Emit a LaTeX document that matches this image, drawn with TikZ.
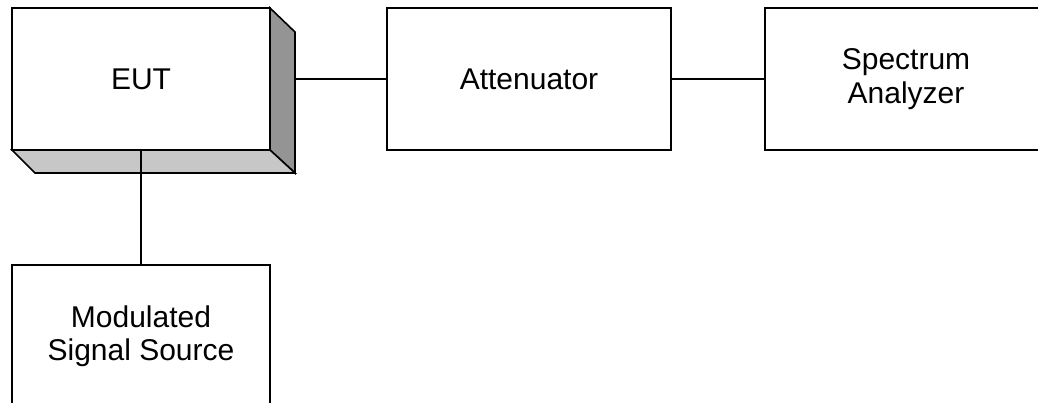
\documentclass[tikz,border=0pt]{standalone}
\usepackage{fontspec}
\setmainfont{Liberation Sans}
\begin{document}
\begin{tikzpicture}[x=1pt,y=-1pt,
  blockbox/.style={draw=black, line width=2pt, fill=white, rectangle, inner sep=0pt,
    minimum width=258pt, minimum height=142pt, align=center,
    font=\fontsize{30}{33.5}\selectfont},
  wire/.style={draw=black, line width=2pt},
  sideface/.style={draw=black, line width=1.6pt, line join=miter, fill=black!42},
  bottomface/.style={draw=black, line width=1.6pt, line join=miter, fill=black!22}]
\useasboundingbox (0,0) rectangle (1038,402);
\clip (0,0) rectangle (1038,402);
% EUT 3D faces
\coordinate (ftr) at (270,8);
\coordinate (fbr) at (270,150);
\coordinate (fbl) at (12,150);
\coordinate (btr) at (295,32);
\coordinate (bbr) at (295,173);
\coordinate (bbl) at (35,173);
\filldraw[sideface] (ftr) -- (btr) -- (bbr) -- (fbr) -- cycle;
\filldraw[bottomface] (fbl) -- (fbr) -- (bbr) -- (bbl) -- cycle;
\node[blockbox] (eut) at (141,79) {EUT};
\node[blockbox, minimum width=284pt] (att) at (529,79) {Attenuator};
\node[blockbox, minimum width=282pt] (spec) at (906,79) {Spectrum\\Analyzer};
\node[blockbox] (mod) at (141,336) {Modulated\\Signal Source};
\coordinate (eutside) at (295,79);
\draw[wire] (eutside) -- (att.west);
\draw[wire] (att.east) -- (spec.west);
\draw[wire] (eut.south) -- (mod.north);
\end{tikzpicture}
\end{document}
